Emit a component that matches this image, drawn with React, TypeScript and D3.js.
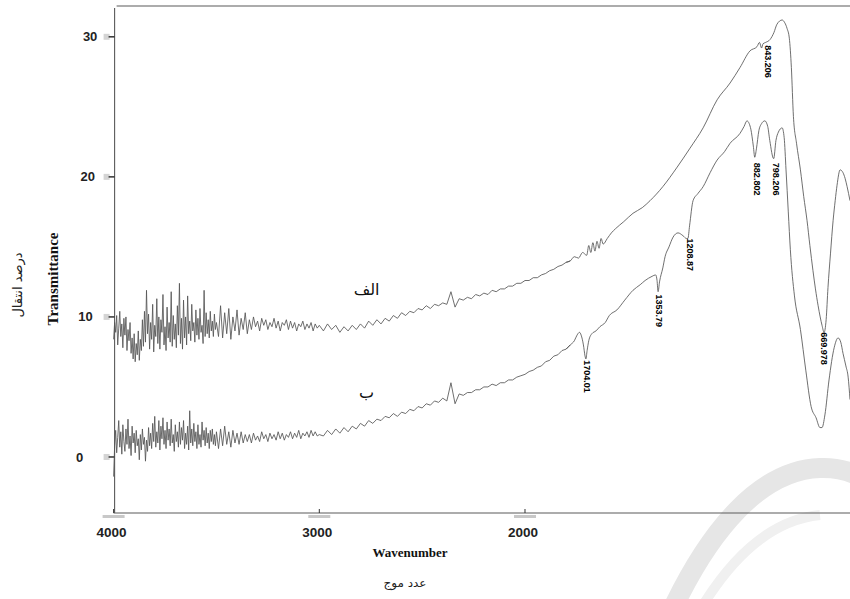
import React from 'react';
import * as d3 from 'd3';

// ---- axis ticks ----
const xTicks = [4000, 3000, 2000];
const yTicks = [0, 10, 20, 30];
const xDomain = [4000, 420];
const yDomain = [-4, 32.2];

// ---- sampling of the noisy parts ----
const fineStart = 4000; // 4000 -> 3500, every 5 cm-1
const fineStep = 5;
const coarseStart = 3490; // 3490 -> 3000, every 10 cm-1
const coarseStep = 10;
const midStart = 2980; // 2980 -> 1800, every 20 cm-1
const midStep = 20;

// ---- series "الف" (upper) ----
const alefFine = [
  8.4, 9.6, 8.9, 10.1, 8.0, 9.2, 10.4, 8.6, 9.5, 7.8,
  9.9, 8.7, 10.0, 7.6, 9.1, 8.3, 9.6, 7.4, 8.5, 7.0,
  8.8, 6.8, 8.1, 7.3, 9.0, 6.9, 8.4, 7.6, 9.8, 7.9,
  10.4, 8.2, 11.9, 8.8, 10.2, 7.7, 9.6, 8.4, 10.9, 7.5,
  9.4, 8.6, 11.3, 8.1, 10.0, 7.7, 9.8, 8.9, 11.6, 8.0,
  9.3, 7.6, 10.7, 8.5, 9.6, 8.2, 11.8, 7.9, 10.1, 8.4,
  9.5, 7.8, 10.8, 8.7, 12.4, 8.1, 9.9, 7.7, 11.2, 8.5,
  10.0, 8.0, 11.5, 8.8, 9.7, 8.3, 10.9, 9.0, 9.6, 8.2,
  10.5, 8.7, 9.9, 8.4, 10.6, 8.9, 9.4, 8.1, 11.9, 8.6,
  10.3, 8.8, 9.8, 8.5, 10.4, 9.0, 9.7, 8.6, 10.2, 9.1,
  9.6,
];
const alefCoarse = [
  8.6, 10.8, 8.5, 10.3, 8.8, 10.6, 8.4, 10.0, 9.0, 10.5,
  8.7, 9.9, 9.1, 10.3, 8.8, 9.8, 9.1, 10.0, 9.3, 9.7,
  9.0, 9.9, 9.4, 9.8, 9.1, 9.6, 9.3, 9.9, 9.2, 9.7,
  9.0, 9.6, 9.4, 9.8, 9.1, 9.7, 9.2, 9.6, 9.0, 9.5,
  9.3, 9.7, 9.1, 9.5, 9.2, 9.6, 9.0, 9.5, 9.2, 9.4,
];
const alefMid = [
  9.0, 9.5, 9.1, 9.4, 8.9, 9.3, 9.0, 9.4, 9.1, 9.5,
  9.2, 9.7, 9.4, 9.8, 9.5, 9.9, 9.7, 10.1, 9.9, 10.3,
  10.1, 10.4, 10.3, 10.6, 10.5, 10.8, 10.6, 10.9, 10.8, 11.0,
  10.9, 11.8, 10.7, 11.3, 11.2, 11.4, 11.3, 11.6, 11.5, 11.7,
  11.6, 11.9, 11.8, 12.0, 12.0, 12.2, 12.2, 12.4, 12.4, 12.6,
  12.6, 12.8, 12.8, 13.0, 13.1, 13.3, 13.4, 13.6, 13.7, 13.9,
];
const alefTailWn = [
  1780, 1760, 1740, 1720, 1700, 1690, 1680, 1670, 1660, 1650,
  1640, 1630, 1620, 1600, 1580, 1560, 1520, 1475, 1430, 1392,
  1330, 1260, 1200, 1134, 1066, 1003, 955, 906, 872, 860,
  850, 843, 830, 809, 790, 775, 750, 737, 726, 715,
  705, 695, 680, 661, 645, 629, 615, 600, 588, 575,
  565, 556, 546, 536, 527, 515, 502, 492, 483, 468,
  454, 444, 434, 420,
];
const alefTailVal = [
  14.0, 14.3, 14.2, 14.6, 14.4, 15.1, 14.6, 15.3, 14.7, 15.4,
  14.9, 15.6, 15.2, 15.6, 16.0, 16.3, 16.8, 17.4, 17.8, 18.3,
  19.3, 20.7, 22.0, 23.5, 25.5, 26.7, 27.8, 29.0, 29.3, 29.6,
  29.2, 29.5, 29.6, 29.8, 30.3, 30.9, 31.2, 31.0, 30.6, 29.9,
  27.8, 24.3, 22.4, 20.5, 18.6, 16.9, 15.1, 13.3, 12.0, 10.8,
  10.0, 9.4, 8.9, 9.8, 12.1, 14.5, 16.9, 18.3, 19.4, 20.5,
  20.3, 19.9, 19.3, 18.3,
];

// ---- series "ب" (lower) ----
const baFine = [
  -1.4, 0.8, 1.9, 0.3, 1.4, 2.6, 0.7, 1.8, 0.2, 2.3,
  1.1, 0.4, 2.0, 0.9, 2.7, 0.6, 1.5, 0.1, 2.2, 1.0,
  1.7, 0.3, 1.9, 0.8, 1.3, -0.2, 1.6, 0.5, 2.0, 0.9,
  1.4, -0.3, 1.2, 0.4, 2.1, 0.8, 1.7, 0.6, 2.4, 1.1,
  2.9, 0.7, 1.8, 1.0, 2.6, 0.5, 2.2, 1.3, 2.8, 0.9,
  1.9, 0.6, 2.5, 1.2, 2.0, 0.8, 2.7, 1.0, 1.6, 0.4,
  2.3, 1.1, 1.8, 0.7, 2.5, 0.9, 2.1, 1.2, 2.6, 0.6,
  1.7, 0.9, 2.2, 0.5, 3.3, 1.0, 2.0, 0.8, 2.4, 1.1,
  1.8, 0.6, 2.3, 0.9, 1.6, 0.7, 2.5, 1.2, 1.9, 0.8,
  2.1, 1.0, 1.7, 0.6, 1.9, 1.1, 2.0, 0.9, 1.6, 0.8,
  1.8,
];
const baCoarse = [
  0.6, 2.0, 0.8, 2.2, 0.9, 1.8, 0.7, 1.9, 1.0, 1.7,
  0.9, 1.8, 1.0, 1.6, 1.1, 1.6, 1.0, 1.7, 1.2, 1.5,
  1.1, 1.8, 1.3, 1.6, 1.1, 1.7, 1.3, 1.6, 1.2, 1.8,
  1.3, 1.7, 1.2, 1.6, 1.4, 1.8, 1.3, 1.7, 1.4, 1.9,
  1.3, 1.7, 1.5, 1.8, 1.4, 1.9, 1.5, 1.8, 1.5, 1.6,
];
const baMid = [
  1.5, 1.9, 1.6, 2.0, 1.7, 2.1, 1.8, 2.2, 2.0, 2.4,
  2.2, 2.6, 2.4, 2.7, 2.6, 2.9, 2.8, 3.1, 2.9, 3.2,
  3.1, 3.4, 3.3, 3.6, 3.5, 3.8, 3.7, 4.0, 3.9, 4.2,
  4.0, 5.3, 3.8, 4.5, 4.4, 4.6, 4.6, 4.8, 4.8, 5.0,
  5.0, 5.2, 5.1, 5.3, 5.3, 5.5, 5.5, 5.7, 5.8, 5.9,
  6.1, 6.2, 6.4, 6.5, 6.8, 6.9, 7.2, 7.3, 7.6, 7.7,
];
const baTailWn = [
  1780, 1760, 1747, 1735, 1727, 1716, 1708, 1704, 1698, 1690,
  1675, 1655, 1636, 1610, 1590, 1553, 1515, 1475, 1440, 1416,
  1382, 1365, 1358, 1353, 1346, 1330, 1319, 1300, 1280, 1256,
  1232, 1215, 1208, 1200, 1183, 1160, 1134, 1100, 1066, 1030,
  1003, 955, 935, 921, 910, 902, 890, 883, 875, 863,
  850, 834, 820, 810, 791, 780, 768, 750, 740, 731,
  720, 710, 690, 661, 635, 609, 585, 566, 556, 542,
  522, 497, 478, 465, 454, 440, 429, 420,
];
const baTailVal = [
  8.0, 8.3, 8.7, 8.9, 8.7, 8.0, 7.2, 7.0, 7.6, 8.3,
  8.8, 9.0, 9.3, 9.6, 10.1, 10.5, 11.2, 11.9, 12.3, 12.6,
  12.9, 13.0, 12.6, 11.8, 12.5, 13.5, 14.3, 15.0, 15.7, 16.0,
  15.8, 15.6, 15.6, 16.5, 18.3, 18.8, 19.3, 20.3, 21.2, 21.8,
  22.4, 23.1, 23.6, 24.0, 23.8, 23.4, 22.2, 21.4, 22.0, 23.3,
  23.8, 24.0, 23.6, 22.6, 21.3, 22.6, 23.2, 23.5, 22.8, 20.5,
  17.5, 14.8, 11.5, 9.1, 6.2, 3.6, 2.8, 2.1, 2.1, 3.0,
  5.5, 7.8, 8.5, 8.2, 7.4, 6.5, 5.7, 4.1,
];

// ---- peak annotations (label top-centre, data units) ----
const peakText = ['843.206', '882.802', '798.206', '1208.87', '1353.79', '1704.01', '669.978'];
const peakWn = [818, 872, 779, 1198, 1348, 1698, 546];
const peakVal = [29.4, 21.0, 21.0, 15.6, 11.6, 6.9, 8.9];

// ---- series names ----
const seriesNames = ['الف', 'ب'];
const seriesNameWn = [2770, 2770];
const seriesNameVal = [11.6, 4.2];

type P = [number, number];

function noisyPart(fine: number[], coarse: number[], mid: number[], tailWn: number[], tailVal: number[]): P[] {
  const pts: P[] = [];
  fine.forEach((v, i) => pts.push([fineStart - i * fineStep, v]));
  coarse.forEach((v, i) => pts.push([coarseStart - i * coarseStep, v]));
  mid.forEach((v, i) => pts.push([midStart - i * midStep, v]));
  pts.push([tailWn[0], tailVal[0]]);
  return pts;
}

function smoothPart(mid: number[], tailWn: number[], tailVal: number[]): P[] {
  const pts: P[] = [[midStart - (mid.length - 1) * midStep, mid[mid.length - 1]]];
  tailWn.forEach((w, i) => pts.push([w, tailVal[i]]));
  return pts;
}

export default function App() {
  const W = 850;
  const H = 599;
  const x = d3.scaleLinear().domain(xDomain).range([113.6, 850]);
  const y = d3.scaleLinear().domain(yDomain).range([513, 6]);
  const lineLin = d3
    .line<P>()
    .x((d) => x(d[0]))
    .y((d) => y(d[1]))
    .curve(d3.curveLinear);
  const lineSmooth = d3
    .line<P>()
    .x((d) => x(d[0]))
    .y((d) => y(d[1]))
    .curve(d3.curveMonotoneX);

  const series = [
    {
      noisy: noisyPart(alefFine, alefCoarse, alefMid, alefTailWn, alefTailVal),
      smooth: smoothPart(alefMid, alefTailWn, alefTailVal),
    },
    {
      noisy: noisyPart(baFine, baCoarse, baMid, baTailWn, baTailVal),
      smooth: smoothPart(baMid, baTailWn, baTailVal),
    },
  ];

  const axisColor = '#5a5a5a';
  const lineColor = '#555';
  const x0 = x(4000);
  const yBottom = y(yDomain[0]);
  const yTop = y(yDomain[1]);

  return (
    <svg
      width={W}
      height={H}
      viewBox={`0 0 ${W} ${H}`}
      style={{ position: 'absolute', left: 0, top: 0, display: 'block', background: '#fff' }}
    >
      <rect x={0} y={0} width={W} height={H} fill="#fff" />

      {/* watermark */}
      <path
        d="M 672 610 C 710 530, 760 470, 820 468 C 850 467, 870 480, 880 495"
        fill="none"
        stroke="#e6e6e6"
        strokeWidth={20}
      />
      <path
        d="M 700 610 C 730 560, 770 520, 820 515"
        fill="none"
        stroke="#f0f0f0"
        strokeWidth={10}
      />

      {/* frame */}
      <line x1={x0 + 3} x2={W} y1={yTop} y2={yTop} stroke={axisColor} strokeWidth={1.1} />
      <line x1={x0 + 1} x2={x0 + 1} y1={yTop + 2} y2={yBottom} stroke={axisColor} strokeWidth={1.1} />
      <line x1={x0} x2={W} y1={yBottom} y2={yBottom} stroke={axisColor} strokeWidth={1.1} />

      {/* y ticks */}
      {yTicks.map((t) => (
        <g key={'y' + t}>
          <rect x={x0 - 10} y={y(t) - 3} width={6} height={6} fill="#d4d4d4" />
          <line x1={x0 - 5} x2={x0 + 1} y1={y(t)} y2={y(t)} stroke="#333" strokeWidth={1.5} />
          <text
            x={76 + t * 0.23}
            y={y(t)}
            dy="0.35em"
            fontFamily="'Liberation Sans', Arial, sans-serif"
            fontWeight="bold"
            fontSize={13}
            fill="#222"
          >
            {t}
          </text>
        </g>
      ))}

      {/* x ticks */}
      {xTicks.map((t) => (
        <g key={'x' + t}>
          <rect x={x(t) - 11} y={yBottom + 2} width={22} height={3} fill="#c8c8c8" />
          <line x1={x(t)} x2={x(t)} y1={yBottom - 4} y2={yBottom} stroke="#333" strokeWidth={1} />
          <text
            x={x(t) - 2}
            y={537}
            textAnchor="middle"
            fontFamily="'Liberation Sans', Arial, sans-serif"
            fontWeight="bold"
            fontSize={13.5}
            fill="#222"
          >
            {t}
          </text>
        </g>
      ))}

      {/* spectra */}
      {series.map((s, i) => (
        <g key={'s' + i} fill="none" stroke={lineColor} strokeWidth={0.85} strokeLinejoin="round">
          <path d={lineLin(s.noisy) || ''} />
          <path d={lineSmooth(s.smooth) || ''} />
        </g>
      ))}

      {/* peak labels */}
      {peakText.map((s, i) => (
        <text
          key={s}
          x={0}
          y={0}
          transform={`translate(${x(peakWn[i])},${y(peakVal[i])}) rotate(90)`}
          dy="0.35em"
          fontFamily="'Liberation Sans', Arial, sans-serif"
          fontWeight="bold"
          fontSize={9}
          fill="#000"
        >
          {s}
        </text>
      ))}

      {/* series names */}
      {seriesNames.map((s, i) => (
        <text
          key={s}
          x={x(seriesNameWn[i])}
          y={y(seriesNameVal[i])}
          textAnchor="middle"
          fontFamily="'DejaVu Sans', sans-serif"
          fontSize={16}
          fill="#111"
        >
          {s}
        </text>
      ))}

      {/* axis titles */}
      <text
        x={410}
        y={557}
        textAnchor="middle"
        fontFamily="'Liberation Serif', 'Times New Roman', serif"
        fontWeight="bold"
        fontSize={13}
        fill="#111"
      >
        Wavenumber
      </text>
      <text
        x={405}
        y={587}
        textAnchor="middle"
        fontFamily="'DejaVu Sans', sans-serif"
        fontSize={12}
        fill="#222"
      >
        عدد موج
      </text>
      <text
        x={0}
        y={0}
        transform="translate(58,279) rotate(-90)"
        textAnchor="middle"
        fontFamily="'Liberation Serif', 'Times New Roman', serif"
        fontWeight="bold"
        fontSize={15}
        fill="#111"
      >
        Transmittance
      </text>
      <text
        x={0}
        y={0}
        transform="translate(22,285) rotate(-90)"
        textAnchor="middle"
        fontFamily="'DejaVu Sans', sans-serif"
        fontSize={13}
        fill="#222"
      >
        درصد انتقال
      </text>
    </svg>
  );
}
